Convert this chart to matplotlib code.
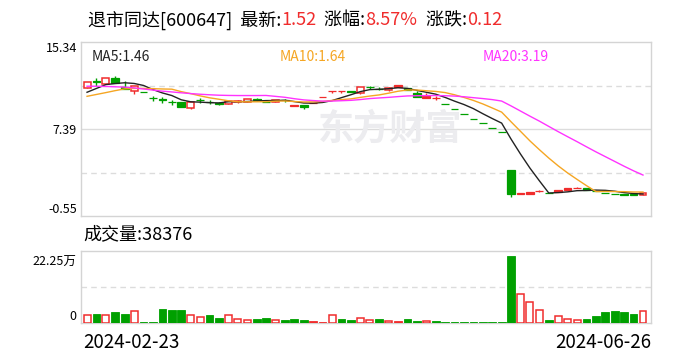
import numpy as np
import pandas as pd
import matplotlib
matplotlib.use('Agg')
import matplotlib.pyplot as plt

plt.rcParams['font.family'] = ['Noto Sans CJK SC', 'DejaVu Sans']

RED = '#f02c2c'
GREEN = '#00a000'
GRID = '#dcdcdc'
W, H = 688, 360

# daily K-line, 2024-02-23 .. 2024-06-26 (60 sessions)
opens = [11.11, 11.74, 11.53, 12.03, 11.26, 10.87, 10.80, 10.22, 10.09, 9.85,
         9.83, 9.34, 10.06, 9.85, 9.73, 9.65, 9.90, 9.88, 10.10, 9.90,
         9.90, 10.04, 9.62, 9.61, 9.80, 10.32, 10.87, 10.87, 10.89, 10.68,
         11.25, 11.08, 10.93, 11.38, 11.11, 10.68, 10.38, 10.23, 9.72, 9.23,
         8.77, 8.33, 7.91, 7.52, 7.14, 3.65, 1.50, 1.62, 1.73, 1.58,
         1.82, 2.00, 2.04, 2.00, 1.73, 1.53, 1.44, 1.43, 1.50, 1.40]
highs = [11.66, 12.03, 12.08, 12.26, 11.81, 11.35, 10.80, 10.41, 10.30, 10.05,
         9.83, 9.89, 10.25, 10.00, 9.85, 9.95, 10.05, 10.12, 10.25, 9.90,
         10.00, 10.18, 9.62, 9.61, 9.80, 10.32, 10.87, 10.87, 10.89, 11.23,
         11.35, 11.20, 11.20, 11.45, 11.11, 10.86, 10.68, 10.40, 9.72, 9.23,
         8.77, 8.33, 7.91, 7.52, 7.14, 3.65, 1.52, 1.62, 1.78, 1.58,
         1.82, 2.00, 2.06, 2.00, 1.73, 1.53, 1.44, 1.46, 1.50, 1.54]
lows = [11.11, 11.35, 11.53, 11.60, 11.02, 10.56, 10.80, 9.95, 9.80, 9.55,
        9.41, 9.25, 9.75, 9.65, 9.60, 9.65, 9.80, 9.88, 9.95, 9.88,
        9.90, 9.90, 9.45, 9.19, 9.80, 10.32, 10.68, 10.68, 10.75, 10.62,
        11.07, 10.95, 10.90, 11.20, 10.93, 10.32, 10.20, 10.05, 9.72, 9.23,
        8.77, 8.33, 7.91, 7.52, 7.14, 1.16, 1.50, 1.50, 1.68, 1.55,
        1.64, 1.85, 2.02, 1.82, 1.73, 1.53, 1.44, 1.38, 1.40, 1.40]
closes = [11.66, 11.72, 12.08, 11.60, 11.02, 11.35, 10.80, 10.20, 10.07, 9.83,
          9.41, 9.89, 10.04, 9.83, 9.71, 9.95, 9.92, 10.12, 10.08, 9.88,
          10.00, 10.02, 9.52, 9.43, 9.80, 10.32, 10.87, 10.87, 10.75, 11.23,
          11.23, 11.05, 11.11, 11.20, 10.93, 10.32, 10.20, 10.23, 9.72, 9.23,
          8.77, 8.33, 7.91, 7.52, 7.14, 1.46, 1.52, 1.50, 1.73, 1.55,
          1.64, 1.85, 2.04, 1.82, 1.73, 1.53, 1.44, 1.41, 1.40, 1.52]
# u = hollow red, f = solid red, d = solid green
candle_kind = list('ududdudddd' 'duddduuudd' 'udfdffffdu'
                   'ddufddffdd' 'ddddddfffd' 'fffddddddu')

# volume in 万手
volumes = [2.78, 2.89, 2.78, 3.56, 2.89, 4.12, 0.33, 0.33, 4.56, 4.23,
           4.23, 2.78, 2.11, 2.56, 1.56, 2.78, 1.45, 1.11, 1.22, 1.56,
           1.11, 0.89, 1.22, 0.89, 0.56, 0.22, 2.78, 1.22, 0.89, 1.78,
           1.11, 1.22, 0.78, 0.56, 1.22, 0.56, 0.78, 0.56, 0.22, 0.22,
           0.22, 0.22, 0.22, 0.22, 0.22, 22.25, 9.57, 6.90, 4.23, 0.89,
           2.45, 1.45, 1.11, 1.22, 2.23, 3.56, 3.89, 3.56, 2.89, 3.8376]
vol_kind = list('ududdudddd' 'duudduuudd' 'udddffuddu'
                'udufdduddd' 'dddddduuud' 'uuuddddddu')

# moving averages before enough sessions are on screen
ma5_head = [10.75, 11.10, 11.45, 11.55]
ma10_head = [10.38, 10.55, 10.72, 10.90, 11.06, 11.10, 11.10, 11.08, 11.05]
ma20_head = [11.30, 11.30, 11.28, 11.25, 11.22, 11.15, 11.05, 10.95, 10.85, 10.78,
             10.70, 10.63, 10.57, 10.52, 10.48, 10.46, 10.45, 10.45, 10.45]

price_ticks = [-0.55, 7.39, 15.34]
vol_ticks = [0, 22.25]
vol_tick_labels = ['0', '22.25万']
first_date, last_date = '2024-02-23', '2024-06-26'


def moving_avg(n, head):
    s = pd.Series(closes).rolling(n).mean().to_numpy()
    s[:n - 1] = head
    return s


def px_box(l, t, r, b):
    return [l / W, 1 - b / H, (r - l) / W, (b - t) / H]


fig = plt.figure(figsize=(W / 100, H / 100), dpi=100)
ax = fig.add_axes(px_box(81, 42, 651, 216))
axv = fig.add_axes(px_box(81, 251, 651, 323))

x = np.arange(len(closes))
for a in (ax, axv):
    a.set_xlim(-0.64, 59.85)
    a.set_xticks([])
    a.tick_params(axis='y', length=0, labelsize=9, pad=3)
    for sp in a.spines.values():
        sp.set_color('#d4d4d4')
        sp.set_linewidth(1)

# price panel
ax.set_ylim(-0.55, 15.34)
ax.axhline(7.39, color=GRID, lw=1, zorder=0)
for yq in (3.42, 11.365):
    ax.axhline(yq, color=GRID, lw=1, ls=(0, (4, 3)), zorder=0)
ax.text((318 - 81) / 570, (216 - 129) / 174, '东方财富', transform=ax.transAxes,
        fontsize=26, fontweight='bold', color='#ececef', ha='left', va='center', zorder=0)

for i in x:
    o, h, l, c, k = opens[i], highs[i], lows[i], closes[i], candle_kind[i]
    col = GREEN if k == 'd' else RED
    lo, hi = min(o, c), max(o, c)
    ax.vlines(i, l, h, color=col, lw=1, zorder=2)
    if k == 'u':
        ax.bar(i, hi - lo, 0.74, lo, facecolor='white', edgecolor=col, lw=1.1, zorder=3)
    else:
        ax.bar(i, hi - lo, 0.82, lo, facecolor=col, edgecolor=col, lw=0.9, zorder=3)

ma5, ma10, ma20 = moving_avg(5, ma5_head), moving_avg(10, ma10_head), moving_avg(20, ma20_head)
ax.plot(x, ma5, color='#222222', lw=1, zorder=4)
ax.plot(x, ma10, color='#f5a623', lw=1, zorder=4)
ax.plot(x, ma20, color='#ff33ff', lw=1, zorder=4)

ax.set_yticks(price_ticks)
ax.set_yticklabels([f'{v:.2f}' for v in price_ticks])
labs = ax.get_yticklabels()
labs[0].set_va('bottom')
labs[2].set_va('top')

fig.text(92 / W, 1 - 57 / H, f'MA5:{ma5[-1]:.2f}', fontsize=10, color='#222222', va='center')
fig.text(280 / W, 1 - 57 / H, f'MA10:{ma10[-1]:.2f}', fontsize=10, color='#f5a623', va='center')
fig.text(483 / W, 1 - 57 / H, f'MA20:{ma20[-1]:.2f}', fontsize=10, color='#ff33ff', va='center')

# volume panel
axv.set_ylim(0, 24.0)
axv.axhline(12.0, color=GRID, lw=1, ls=(0, (4, 3)), zorder=0)
for i in x:
    k = vol_kind[i]
    col = GREEN if k == 'd' else RED
    if k == 'u':
        axv.bar(i, volumes[i], 0.74, facecolor='white', edgecolor=col, lw=1.1, zorder=3)
    else:
        axv.bar(i, volumes[i], 0.82, facecolor=col, edgecolor=col, lw=0.6, zorder=3)
axv.set_yticks(vol_ticks)
axv.set_yticklabels(vol_tick_labels)
vl = axv.get_yticklabels()
vl[0].set_va('bottom')
vl[1].set_va('top')

fig.text(83 / W, 1 - 234 / H, f'成交量:{volumes[-1] * 10000:.0f}', fontsize=13, va='center')
fig.text(83 / W, 1 - 342 / H, first_date, fontsize=13.5, va='center', ha='left')
fig.text(651 / W, 1 - 342 / H, last_date, fontsize=13.5, va='center', ha='right')

# header line
last, prev = closes[-1], closes[-2]
parts = [('退市同达[600647]  最新:', 'black'), (f'{last:.2f}', RED),
         ('  涨幅:', 'black'), (f'{(last - prev) / prev * 100:.2f}%', RED),
         ('  涨跌:', 'black'), (f'{last - prev:.2f}', RED)]
r = fig.canvas.get_renderer()
xp = 88
for s, c in parts:
    t = fig.text(xp / W, 1 - 20 / H, s, fontsize=13, color=c, va='center', ha='left')
    xp += t.get_window_extent(r).width

fig.savefig('out.png', dpi=100)
